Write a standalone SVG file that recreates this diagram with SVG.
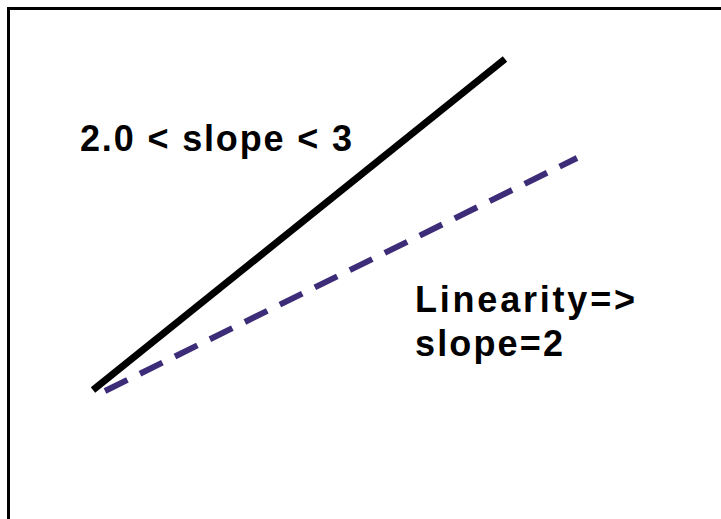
<svg xmlns="http://www.w3.org/2000/svg" width="721" height="519" viewBox="0 0 721 519">
  <style>
    .lbl { font-family: "Liberation Sans", Arial, sans-serif; font-weight: bold; font-size: 36px; fill: #000; }
  </style>
  <rect x="0" y="0" width="721" height="519" fill="#fff"/>
  <g id="frame">
    <rect x="8.5" y="8.5" width="800" height="600" fill="none" stroke="#000" stroke-width="3"/>
  </g>
  <g id="connectors">
    <line id="measured" x1="93" y1="390" x2="505" y2="59" stroke="#000" stroke-width="7"/>
    <line id="linear" x1="105" y1="391" x2="577" y2="158" stroke="#3d2d78" stroke-width="6" stroke-dasharray="25 14"/>
  </g>
  <g id="label-measured">
    <text class="lbl" x="80" y="151" textLength="272" lengthAdjust="spacing">2.0 &lt; slope &lt; 3</text>
  </g>
  <g id="label-linear">
    <text class="lbl" x="415" y="312" textLength="220" lengthAdjust="spacing">Linearity=&gt;</text>
    <text class="lbl" x="415" y="356" textLength="148" lengthAdjust="spacing">slope=2</text>
  </g>
</svg>
